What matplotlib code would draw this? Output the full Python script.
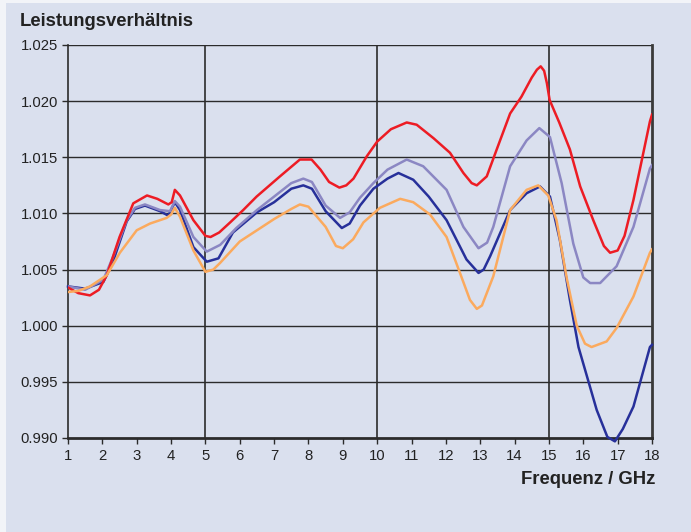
import matplotlib
matplotlib.use("Agg")
import matplotlib.pyplot as plt
from matplotlib.patches import Rectangle

plt.rcParams["font.family"] = ["Liberation Sans", "DejaVu Sans"]

BG = "#dae0ee"

red_x = [1.0, 1.3, 1.64, 1.9, 2.13, 2.5, 2.9, 3.3, 3.6, 3.92, 4.02, 4.11, 4.26, 4.65,
         5.0, 5.15, 5.4, 5.72, 6.1, 6.49, 7.17, 7.75, 8.09, 8.35, 8.6, 8.9, 9.1, 9.31,
         9.7, 10.0, 10.4, 10.86, 11.15, 11.64, 12.12, 12.51, 12.75, 12.9, 13.19, 13.48,
         13.87, 14.2, 14.5, 14.65, 14.76, 14.86, 14.94, 15.02, 15.3, 15.61, 15.91, 16.29,
         16.6, 16.78, 17.0, 17.2, 17.46, 17.94, 18.0]
red_y = [1.0034, 1.0029, 1.0027, 1.0032, 1.0045, 1.0079, 1.0109, 1.0116, 1.0113, 1.0108,
         1.0110, 1.0121, 1.0116, 1.0094, 1.0080, 1.0079, 1.0083, 1.0092, 1.0103, 1.0115,
         1.0133, 1.0148, 1.0148, 1.0139, 1.0128, 1.0123, 1.0125, 1.0131, 1.0151, 1.0164,
         1.0175, 1.0181, 1.0179, 1.0167, 1.0154, 1.0136, 1.0127, 1.0125, 1.0133, 1.0157,
         1.0189, 1.0204, 1.0221, 1.0228, 1.0231, 1.0227, 1.0216, 1.0201, 1.0181, 1.0157,
         1.0124, 1.0094, 1.0071, 1.0065, 1.0067, 1.0080, 1.0112, 1.0182, 1.0188]

lav_x = [1.0, 1.5, 2.03, 2.32, 2.71, 2.95, 3.24, 3.68, 3.97, 4.11, 4.26, 4.65, 5.04, 5.43,
         5.9, 6.5, 7.0, 7.5, 7.85, 8.1, 8.5, 8.92, 9.2, 9.5, 9.89, 10.3, 10.86, 11.34,
         12.02, 12.51, 12.95, 13.2, 13.38, 13.87, 14.35, 14.72, 15.03, 15.37, 15.71,
         16.0, 16.2, 16.49, 16.97, 17.46, 17.94, 18.0]
lav_y = [1.0035, 1.0032, 1.0041, 1.0062, 1.0094, 1.0105, 1.0108, 1.0103, 1.0102, 1.0111,
         1.0106, 1.0079, 1.0066, 1.0072, 1.0087, 1.0103, 1.0115, 1.0127, 1.0131, 1.0128,
         1.0107, 1.0096, 1.0101, 1.0114, 1.0127, 1.0139, 1.0148, 1.0142, 1.0121, 1.0088,
         1.0069, 1.0074, 1.0088, 1.0142, 1.0165, 1.0176, 1.0168, 1.0127, 1.0073, 1.0043,
         1.0038, 1.0038, 1.0053, 1.0088, 1.0140, 1.0143]

blue_x = [1.0, 1.5, 2.03, 2.32, 2.71, 2.95, 3.24, 3.68, 3.92, 4.11, 4.26, 4.65, 5.04, 5.38,
          5.8, 6.5, 7.0, 7.5, 7.85, 8.1, 8.5, 8.97, 9.2, 9.5, 9.89, 10.3, 10.62, 11.05,
          11.5, 12.02, 12.6, 12.95, 13.1, 13.29, 13.87, 14.35, 14.74, 15.03, 15.32, 15.61,
          15.86, 16.39, 16.7, 16.92, 17.15, 17.46, 17.94, 18.0]
blue_y = [1.0035, 1.0033, 1.0039, 1.0058, 1.0093, 1.0104, 1.0107, 1.0102, 1.0098, 1.0110,
          1.0103, 1.0070, 1.0057, 1.0060, 1.0083, 1.0101, 1.0110, 1.0122, 1.0125, 1.0122,
          1.0102, 1.0087, 1.0091, 1.0107, 1.0122, 1.0131, 1.0136, 1.0130, 1.0115, 1.0094,
          1.0059, 1.0047, 1.0050, 1.0062, 1.0103, 1.0118, 1.0124, 1.0115, 1.0076, 1.0023,
          0.9981, 0.9925, 0.9901, 0.9897, 0.9908, 0.9928, 0.9981, 0.9983]

org_x = [1.0, 1.3, 1.64, 2.13, 2.51, 3.0, 3.39, 3.87, 4.0, 4.11, 4.26, 4.65, 5.0, 5.23,
         5.43, 6.0, 6.5, 7.0, 7.5, 7.75, 8.0, 8.5, 8.8, 9.0, 9.3, 9.6, 10.08, 10.67, 11.05,
         11.54, 12.02, 12.41, 12.7, 12.9, 13.05, 13.38, 13.87, 14.35, 14.69, 14.98, 15.22,
         15.52, 15.81, 16.05, 16.24, 16.68, 16.97, 17.46, 17.94, 18.0]
org_y = [1.0030, 1.0031, 1.0035, 1.0045, 1.0065, 1.0085, 1.0091, 1.0096, 1.0099, 1.0105,
         1.0097, 1.0067, 1.0048, 1.0050, 1.0056, 1.0075, 1.0085, 1.0095, 1.0104, 1.0108,
         1.0106, 1.0088, 1.0071, 1.0069, 1.0077, 1.0092, 1.0105, 1.0113, 1.0110, 1.0099,
         1.0079, 1.0047, 1.0023, 1.0015, 1.0018, 1.0044, 1.0103, 1.0121, 1.0125, 1.0116,
         1.0094, 1.0042, 1.0000, 0.9984, 0.9981, 0.9986, 0.9998, 1.0026, 1.0065, 1.0068]

x_ticks = list(range(1, 19))
y_ticks = [0.990, 0.995, 1.000, 1.005, 1.010, 1.015, 1.020, 1.025]

# ===== Plot =====
fig = plt.figure(figsize=(6.91, 5.32), dpi=100, facecolor=BG)
# heller Rand links und oben
fig.patches.append(Rectangle((0, 0), 6 / 691, 1, transform=fig.transFigure,
                             facecolor="#f2f4f8", edgecolor="none"))
fig.patches.append(Rectangle((0, 1 - 3 / 532), 1, 3 / 532, transform=fig.transFigure,
                             facecolor="#f2f4f8", edgecolor="none"))

ax = fig.add_axes([68 / 691, 1 - 438 / 532, 584 / 691, 393 / 532])
ax.set_facecolor(BG)

for yv in y_ticks[1:]:
    ax.axhline(yv, color="#2b2b2b", lw=1.0, zorder=1)
for xv in [5, 10, 15]:
    ax.axvline(xv, color="#2b2b2b", lw=1.2, zorder=1)

ax.plot(blue_x, blue_y, color="#27309a", lw=1.8, zorder=3, clip_on=False)
ax.plot(lav_x, lav_y, color="#8b87c3", lw=1.8, zorder=3)
ax.plot(red_x, red_y, color="#ed1c24", lw=1.8, zorder=3)
ax.plot(org_x, org_y, color="#fbaa5e", lw=1.8, zorder=3)

ax.set_xlim(1, 18)
ax.set_ylim(0.990, 1.025)
ax.set_xticks(x_ticks)
ax.set_yticks(y_ticks)
ax.set_yticklabels([f"{v:.3f}" for v in y_ticks])

ax.spines["top"].set_visible(False)
ax.spines["left"].set_color("#2b2b2b")
ax.spines["left"].set_linewidth(1.2)
ax.spines["bottom"].set_color("#2b2b2b")
ax.spines["bottom"].set_linewidth(2.0)
ax.spines["right"].set_color("#3a3a3a")
ax.spines["right"].set_linewidth(2.0)

ax.tick_params(axis="both", direction="out", length=4, width=1.0, color="#2b2b2b",
               labelsize=10.7, labelcolor="#222222")
ax.tick_params(axis="x", pad=4)
ax.tick_params(axis="y", pad=3)

fig.text(20 / 691, 1 - 22 / 532, "Leistungsverhältnis", fontsize=13.3, fontweight="bold",
         color="#222222", ha="left", va="center")
fig.text(655 / 691, 1 - 480 / 532, "Frequenz / GHz", fontsize=13.3, fontweight="bold",
         color="#222222", ha="right", va="center")

fig.savefig("out.png", dpi=100, facecolor=BG)
